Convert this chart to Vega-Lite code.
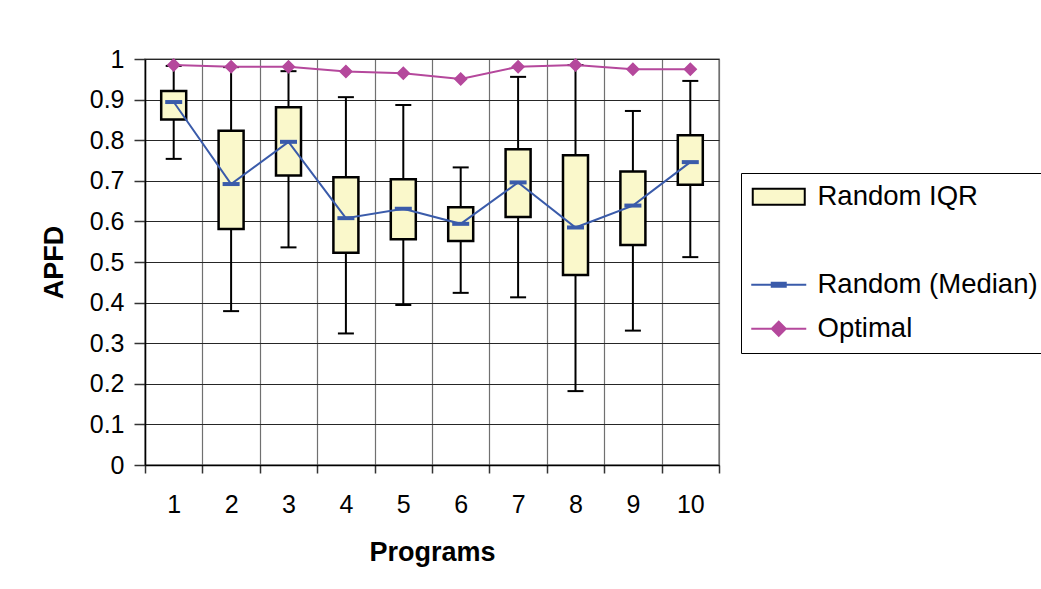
{
  "$schema": "https://vega.github.io/schema/vega-lite/v6.json",
  "width": 574,
  "height": 406,
  "autosize": {"type": "none"},
  "padding": {"left": 145, "top": 59, "right": 322, "bottom": 124},
  "background": "white",
  "config": {
    "font": "Liberation Sans",
    "view": {"stroke": "#8a8a8a", "strokeWidth": 1.5},
    "axis": {
      "labelFont": "Liberation Sans",
      "titleFont": "Liberation Sans",
      "labelColor": "black",
      "titleColor": "black",
      "domainColor": "black",
      "domainWidth": 1.5,
      "tickColor": "#333333",
      "tickWidth": 1.5
    },
    "legend": {
      "orient": "none",
      "legendX": 596,
      "legendY": 114,
      "title": null,
      "strokeColor": "black",
      "fillColor": "white",
      "padding": 10,
      "labelFont": "Liberation Sans",
      "labelFontSize": 27.5,
      "labelColor": "black",
      "labelLimit": 400,
      "labelOffset": 25,
      "rowPadding": 15,
      "symbolSize": 400,
      "symbolOffset": 14,
      "symbolStrokeWidth": 2,
      "symbolOpacity": 1
    }
  },
  "data": {
    "values": [
      {"program": 1, "low": 0.754, "q1": 0.851, "median": 0.894, "q3": 0.921, "high": 0.983, "optimal": 0.985},
      {"program": 2, "low": 0.379, "q1": 0.581, "median": 0.692, "q3": 0.823, "high": 0.980, "optimal": 0.981},
      {"program": 3, "low": 0.536, "q1": 0.713, "median": 0.796, "q3": 0.881, "high": 0.970, "optimal": 0.981},
      {"program": 4, "low": 0.324, "q1": 0.523, "median": 0.608, "q3": 0.709, "high": 0.906, "optimal": 0.969},
      {"program": 5, "low": 0.394, "q1": 0.556, "median": 0.631, "q3": 0.704, "high": 0.887, "optimal": 0.965},
      {"program": 6, "low": 0.424, "q1": 0.552, "median": 0.594, "q3": 0.635, "high": 0.733, "optimal": 0.951},
      {"program": 7, "low": 0.413, "q1": 0.611, "median": 0.696, "q3": 0.778, "high": 0.956, "optimal": 0.981},
      {"program": 8, "low": 0.182, "q1": 0.468, "median": 0.585, "q3": 0.763, "high": 0.985, "optimal": 0.985},
      {"program": 9, "low": 0.331, "q1": 0.542, "median": 0.639, "q3": 0.723, "high": 0.872, "optimal": 0.975},
      {"program": 10, "low": 0.512, "q1": 0.690, "median": 0.746, "q3": 0.812, "high": 0.946, "optimal": 0.975}
    ]
  },
  "encoding": {
    "x": {
      "field": "program",
      "type": "ordinal",
      "scale": {"paddingInner": 0, "paddingOuter": 0},
      "axis": {
        "title": "Programs",
        "tickBand": "extent",
        "labelAngle": 0,
        "grid": true,
        "gridColor": "#707070",
        "gridWidth": 1.2,
        "tickSize": 8,
        "labelFontSize": 25,
        "labelPadding": 19,
        "titleFontSize": 27,
        "titleFontWeight": "bold",
        "titlePadding": 22
      }
    }
  },
  "layer": [
    {
      "mark": {"type": "rule", "color": "black", "strokeWidth": 2},
      "encoding": {
        "y": {
          "field": "low",
          "type": "quantitative",
          "title": "APFD",
          "scale": {"domain": [0, 1], "nice": false},
          "axis": {
            "values": [0, 0.1, 0.2, 0.3, 0.4, 0.5, 0.6, 0.7, 0.8, 0.9, 1],
            "format": "~g",
            "grid": true,
            "gridColor": "#262626",
            "gridWidth": 1.2,
            "tickSize": 11,
            "labelFontSize": 25,
            "labelPadding": 10,
            "titleFontSize": 27,
            "titleFontWeight": "bold",
            "titlePadding": 21
          }
        },
        "y2": {"field": "high"}
      }
    },
    {
      "mark": {"type": "tick", "color": "black", "size": 16, "thickness": 2, "opacity": 1, "orient": "horizontal"},
      "encoding": {"y": {"field": "low", "type": "quantitative", "title": "APFD"}}
    },
    {
      "mark": {"type": "tick", "color": "black", "size": 16, "thickness": 2, "opacity": 1, "orient": "horizontal"},
      "encoding": {"y": {"field": "high", "type": "quantitative", "title": "APFD"}}
    },
    {
      "mark": {"type": "bar", "stroke": "black", "strokeWidth": 2.5, "size": 25, "opacity": 1},
      "encoding": {
        "y": {"field": "q1", "type": "quantitative", "title": "APFD"},
        "y2": {"field": "q3"},
        "fill": {
          "datum": "Random IQR",
          "scale": {
            "domain": ["Random IQR", " ", "Random (Median)", "Optimal"],
            "range": ["#FAF8CB", "transparent", "#3A5BAA", "#B5489C"]
          }
        }
      }
    },
    {
      "mark": {"type": "line", "strokeWidth": 2},
      "encoding": {
        "y": {"field": "median", "type": "quantitative", "title": "APFD"},
        "stroke": {
          "datum": "Random (Median)",
          "scale": {
            "domain": ["Random IQR", " ", "Random (Median)", "Optimal"],
            "range": ["black", "transparent", "#3A5BAA", "#B5489C"]
          }
        }
      }
    },
    {
      "mark": {"type": "tick", "color": "#3A5BAA", "size": 17, "thickness": 4, "opacity": 1, "orient": "horizontal"},
      "encoding": {"y": {"field": "median", "type": "quantitative", "title": "APFD"}}
    },
    {
      "mark": {"type": "line", "strokeWidth": 2},
      "encoding": {
        "y": {"field": "optimal", "type": "quantitative", "title": "APFD"},
        "stroke": {"datum": "Optimal"}
      }
    },
    {
      "mark": {"type": "point", "size": 400, "filled": true, "opacity": 1, "color": "#B5489C", "strokeWidth": 0},
      "encoding": {
        "y": {"field": "optimal", "type": "quantitative", "title": "APFD"},
        "shape": {
          "datum": "Optimal",
          "scale": {
            "domain": ["Random IQR", " ", "Random (Median)", "Optimal"],
            "range": [
              "M-2.6,-0.8H2.6V0.8H-2.6Z",
              "M0,0",
              "M-2.75,0H2.75M-0.7,-0.2H0.7V0.2H-0.7Z",
              "M-2.75,0H2.75M0,-0.7L0.7,0L0,0.7L-0.7,0Z"
            ]
          }
        }
      }
    }
  ]
}
